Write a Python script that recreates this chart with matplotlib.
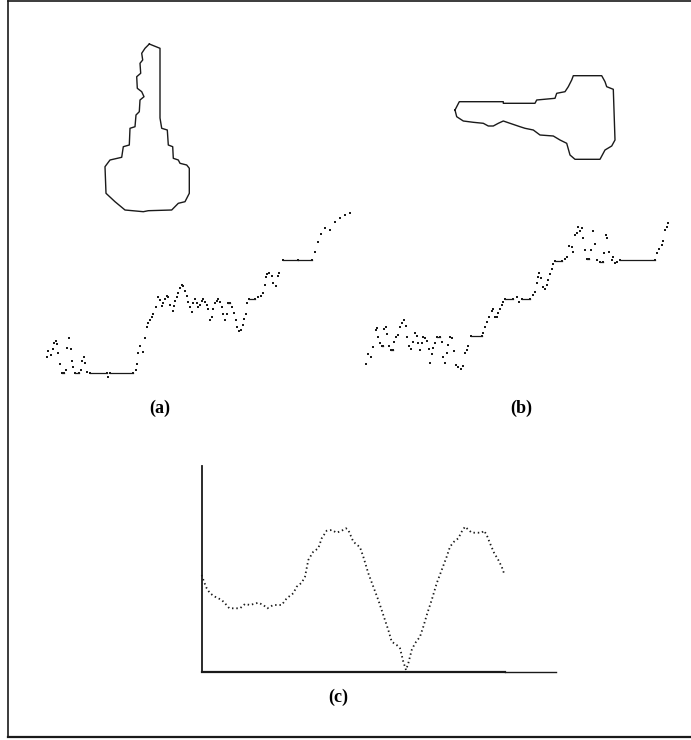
import matplotlib
matplotlib.use("Agg")
import matplotlib.pyplot as plt
import numpy as np

plt.rcParams['font.family'] = ['Liberation Serif', 'DejaVu Serif']

# Outline of key (a), pixel coordinates of the figure
key_a_x = [149.3, 160, 160, 161.7, 167.3, 168.3, 172.7, 173.3, 178.3, 180, 186.7, 189.3,
           189.3, 185, 178.3, 171.7, 148.3, 143.3, 125, 115, 106, 105, 110, 121.7, 123.3,
           129.3, 130, 135, 136, 139.3, 140, 144, 141.7, 137.3, 136.7, 140.7, 140, 142.7,
           141.7, 145, 149.3]
key_a_y = [44, 48.3, 118, 128.3, 130, 145, 146.7, 158.3, 160, 163.3, 165, 168.3,
           193.3, 201.7, 203.3, 210, 210.7, 211.7, 210, 201.7, 193.3, 166.7, 160, 157.3, 146.7,
           145, 128.3, 126.7, 115, 111.7, 100, 96.7, 91.7, 88.3, 76.7, 73.3, 63.3, 60,
           53.3, 48.3, 44]

# Outline of key (b)
key_b_x = [455, 459.3, 503.3, 503.3, 535, 536.7, 555, 556.7, 565, 568.3, 571.7, 573.3,
           601.7, 605, 606.7, 613.3, 615, 611.7, 605, 600, 575, 570, 566.7, 560, 553.3,
           540, 533.3, 525, 520, 510, 503.3, 498.3, 493.3, 488.3, 483.3, 473.3, 463.3,
           456.7, 455]
key_b_y = [110, 101.7, 101.7, 103.3, 103.3, 100, 98.3, 93.3, 91.7, 86.7, 80, 75.7,
           75.7, 81.7, 86.7, 89.3, 140, 146, 150, 159.3, 159.3, 155, 143.3, 140, 136,
           135, 130, 128.3, 126.7, 123.3, 121, 123.3, 126, 126, 123.3, 122.3, 121,
           116.7, 110]

# Signature profile (a)
sig_a_x = [47.3, 48.3, 50.7, 52.7, 54, 56, 57.3, 58.3, 60, 61.7, 64, 66, 67.3, 69.3, 70.7,
           71.7, 73.3, 75, 79.3, 81, 82.3, 84, 85, 87.3, 90, 106.7, 108.3, 110, 133.3, 136,
           137.3, 138.3, 140, 142.7, 145, 146.7, 148.3, 150, 151.7, 153.3, 155.7, 158.3, 160,
           161.7, 163.3, 165, 166.7, 168.3, 170, 172.7, 174, 175.3, 176.7, 178.3, 180, 181.7,
           183.3, 185, 186.7, 188.3, 190, 191.7, 193.3, 195, 196.7, 198.3, 200, 201.7, 203.3,
           205, 206.7, 208.3, 210, 211.7, 213.3, 215, 216.7, 218.3, 220, 221.7, 223.3, 225,
           226.7, 228.3, 230, 231.7, 234, 236, 237.3, 239.3, 240.7, 242.7, 244, 246, 247.3,
           249.3, 255, 258.3, 260.7, 263.3, 265, 266, 267.3, 269.3, 271.7, 273.3, 276, 278.3,
           279.3, 283, 298, 312, 315, 318, 321, 325, 330, 335, 340, 345, 350]
sig_a_y = [356.7, 350.7, 355, 349.3, 342.7, 340.7, 344, 353.3, 364.3, 373.3, 373.3, 370,
           348.3, 338.3, 349.3, 360.7, 367.3, 373.3, 373.3, 370, 360.7, 356.7, 362.7, 371.7,
           373.3, 373.3, 376.7, 373.3, 373.3, 370, 364.3, 353.3, 346, 351.7, 338.3, 327.3, 322.7,
           320, 316.7, 314, 306.7, 297.3, 300, 306, 303.3, 299.3, 296, 297.3, 305, 310.7, 306,
           300.7, 296.7, 293.3, 288.3, 285, 286, 290.7, 296, 301.7, 306.7, 311.7, 302.7, 299.3,
           303.3, 307.3, 305, 300.7, 299.3, 301.7, 305, 309.3, 320, 316.7, 309.3, 303.3, 300.7,
           299.3, 301.7, 306.7, 314, 320, 314, 303.3, 303.3, 306.7, 313.3, 320, 326.7, 330.7,
           330, 325, 319.3, 314, 303.3, 299.3, 299.3, 297.3, 296, 292.7, 285, 277.3, 274,
           272.7, 276, 283.3, 286, 276, 272.7, 260, 260, 260, 252, 242, 234, 228, 230, 222,
           218, 215, 213]

# Signature profile (b)
sig_b_x = [366, 368.3, 370.7, 373.3, 376, 377.3, 378.3, 380, 381.7, 383.3, 384.3, 386,
           387.3, 389.3, 390.7, 392.7, 394, 396, 398.3, 400, 401.7, 404, 406, 407.3, 409.3,
           410.7, 412.7, 415, 416.7, 418.3, 420, 421.7, 423.3, 425, 427.3, 429.3, 430, 431.7,
           433.3, 435, 436.7, 440, 441.7, 443.3, 445, 446.7, 448.3, 450, 451.7, 454, 456,
           458.3, 460.7, 463.3, 465, 466.7, 468.3, 470.7, 481.7, 483.3, 485, 487.3, 489.3,
           491.7, 493.3, 495, 496.7, 498.3, 500, 501.7, 503.3, 505, 513.3, 516.7, 519.3,
           521.7, 530, 532.7, 535, 536.7, 538.3, 539.3, 540.7, 542.7, 545, 546.7, 548.3, 550,
           551.7, 553.3, 555, 561.7, 565, 566.7, 569.3, 571.7, 573.3, 575, 576.7, 578.3, 580,
           581.7, 583.3, 585, 586.7, 589.3, 590.7, 592.7, 595, 597.3, 600, 602.7, 604, 606,
           607.3, 609.3, 611.7, 613.3, 615, 616.7, 620, 655, 656.7, 659.3, 661.7, 663.3, 665,
           666.7, 668.3]
sig_b_y = [364, 354, 356.7, 347.3, 330, 328.3, 336.7, 343.3, 346, 346, 329.3, 327.3, 334,
           346, 350, 350, 341.7, 336.7, 335, 326.7, 322.7, 320, 326, 336.7, 346, 349.3, 341.7,
           332.7, 336, 343.3, 350, 343.3, 337.3, 338.3, 340.7, 349.3, 362.7, 354, 348.3, 342.7,
           336.7, 336.7, 341.7, 356.7, 362.7, 352.7, 345, 336.7, 338.3, 350.7, 365, 367.3,
           369.3, 366, 353.3, 350, 346, 336, 336, 333.3, 327.3, 321.7, 317.3, 310.7, 309.3,
           317.3, 316.7, 312.7, 309.3, 305, 301.7, 299.3, 299.3, 297.3, 301.7, 299.3, 299.3,
           295, 291.7, 283.3, 276.7, 272.7, 278.3, 286.7, 289.3, 285, 280, 274, 269.3, 264,
           260.7, 260.7, 259.3, 256.7, 246, 247.3, 251.7, 235, 233.3, 227.3, 230.7, 228.3,
           238.3, 250, 259.3, 259.3, 250, 230.7, 244, 260, 261.7, 261.7, 252.7, 235, 238.3,
           251.7, 260, 256.7, 262.7, 261.7, 260, 260, 253.3, 249.3, 245, 240.7, 230, 226.7,
           222.7]

# Profile curve (c)
curve_c_x = [201.7, 204, 206.7, 210, 215, 221.7, 225, 229.3, 240, 245, 250, 258.3, 263.3,
             267.3, 273.3, 281.7, 286.7, 293.3, 296.7, 301.7, 305, 308.3, 313.3, 318.3, 321.7,
             326.7, 331.7, 336.7, 341.7, 346, 348.3, 353.3, 360, 363.3, 368.3, 373.3, 378.3,
             383.3, 388.3, 391.7, 396.7, 400, 403.3, 406, 408.3, 410, 411.7, 415, 420, 423.3,
             427.3, 431.7, 436.7, 441.7, 446.7, 450, 454, 458.3, 461.7, 465, 471.7, 481.7, 484,
             486.7, 490, 494, 498.3, 501.7, 504]
curve_c_y = [575, 581.7, 588.3, 593.3, 596.7, 600, 603.3, 608.3, 608.3, 604, 605, 602.7, 605,
             608.3, 605, 605, 598.3, 593.3, 586.7, 582.7, 576.7, 560, 551.7, 548.3, 538.3,
             530.7, 530, 532.7, 530.7, 528.3, 530, 541.7, 547.3, 556.7, 573.3, 586.7, 600, 615,
             630, 641.7, 645, 648.3, 661.7, 670, 663.3, 656.7, 650, 643.3, 636.7, 626.7, 613.3,
             600, 583.3, 570, 556.7, 546.7, 541.7, 538.3, 531.7, 526.7, 532.7, 532.7, 530.7,
             535, 543.3, 552.7, 560, 566.7, 573.3]

labels = ["(a)", "(b)", "(c)"]
label_pos = [(160, 408), (521, 408), (338, 697)]

INK = "#1a1a1a"


def draw_signature(ax, xs, ys):
    """Scattered pen dots, with the flat runs drawn as short solid strokes."""
    ax.scatter(xs, ys, s=1.8, marker="s", color=INK, linewidths=0)
    for i in range(len(xs) - 1):
        if ys[i] == ys[i + 1]:
            ax.plot([xs[i], xs[i + 1]], [ys[i], ys[i + 1]], color=INK, lw=0.9)


def draw_figure():
    fig = plt.figure(figsize=(6.91, 7.40), dpi=100)
    ax = fig.add_axes([0, 0, 1, 1])
    ax.set_xlim(0, 691)
    ax.set_ylim(740, 0)
    ax.axis("off")

    # frame (right edge falls outside the picture)
    ax.plot([8, 8], [1, 737], color=INK, lw=1.2)
    ax.plot([8, 691], [1, 1], color=INK, lw=1.2)
    ax.plot([8, 691], [737, 737], color=INK, lw=1.6)

    # key outlines
    ax.plot(key_a_x, key_a_y, color=INK, lw=1.0)
    ax.plot(key_b_x, key_b_y, color=INK, lw=1.0)

    # signatures
    draw_signature(ax, sig_a_x, sig_a_y)
    draw_signature(ax, sig_b_x, sig_b_y)

    # graph (c) with its axes
    ax.plot([201.7, 201.7], [466, 672], color=INK, lw=1.3)
    ax.plot([201.7, 505], [672, 672], color=INK, lw=1.6)
    ax.plot([505, 556], [672, 672], color=INK, lw=1.0)
    ax.plot(curve_c_x, curve_c_y, color=INK, lw=1.3, ls=(0, (0.8, 1.6)))

    for text, (x, y) in zip(labels, label_pos):
        ax.text(x, y, text, ha="center", va="center", fontsize=13,
                fontweight="bold", color="black")

    fig.savefig("out.png", dpi=100)


if __name__ == "__main__":
    draw_figure()
